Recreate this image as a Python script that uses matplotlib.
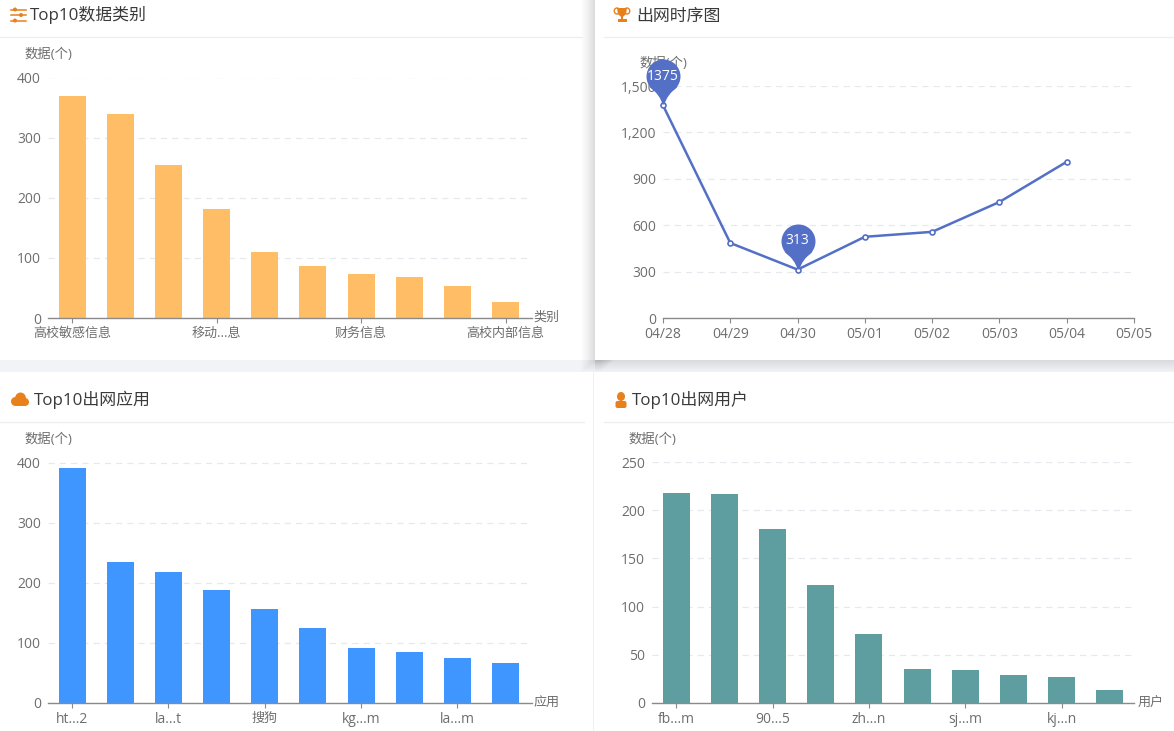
import matplotlib
matplotlib.use('Agg')
import matplotlib.pyplot as plt
from matplotlib.patches import Rectangle, Circle, Ellipse, Polygon, FancyBboxPatch
from matplotlib.path import Path

plt.rcParams['font.family'] = ['Open Sans', 'Noto Sans CJK SC', 'DejaVu Sans']

W, H = 1174, 731

# datos
categorias_tipo = ['高校敏感信息', '', '', '移动...息', '', '', '财务信息', '', '', '高校内部信息']
valores_tipo = [370, 340, 255, 182, 110, 86, 74, 69, 53, 27]

fechas = ['04/28', '04/29', '04/30', '05/01', '05/02', '05/03', '05/04', '05/05']
valores_fecha = [1375, 485, 313, 525, 557, 750, 1010]
picos = [0, 2]

categorias_app = ['ht...2', '', 'la...t', '', '搜狗', '', 'kg...m', '', 'la...m', '']
valores_app = [391, 234, 218, 188, 157, 124, 92, 85, 75, 67]

categorias_user = ['fb...m', '', '90...5', '', 'zh...n', '', 'sj...m', '', 'kj...n', '']
valores_user = [218, 217, 180, 122, 72, 35, 34, 29, 27, 14]

ticks_tipo = [0, 100, 200, 300, 400]
ticks_fecha = [0, 300, 600, 900, 1200, 1500]
ticks_app = [0, 100, 200, 300, 400]
ticks_user = [0, 50, 100, 150, 200, 250]

GRIS = '#6e6e6e'
NARANJA = '#E8801C'
TITULO = '#3a3a3a'
GRID = '#E6E8EE'
EJE = '#8a8a8a'
F_LATIN = 10
F_CJK = 9.4
F_TITULO = 12.2


def ajustar_fuente(ax):
    """Las etiquetas con caracteres chinos van algo mas pequeñas"""
    for t in ax.get_xticklabels() + ax.get_yticklabels():
        t.set_fontsize(F_LATIN if t.get_text().isascii() else F_CJK)


def crear_ejes(fig, x0, x1, y_top, y_bot):
    """Ejes colocados por pixeles de la imagen"""
    ax = fig.add_axes([x0 / W, 1 - y_bot / H, (x1 - x0) / W, (y_bot - y_top) / H])
    ax.patch.set_alpha(0)
    for lado in ['top', 'right', 'left']:
        ax.spines[lado].set_visible(False)
    ax.spines['bottom'].set_color(EJE)
    ax.spines['bottom'].set_linewidth(1)
    ax.grid(axis='y', color=GRID, linestyle=(0, (5, 4)), linewidth=0.9)
    ax.set_axisbelow(True)
    ax.tick_params(axis='y', length=0, labelcolor=GRIS, pad=5)
    ax.tick_params(axis='x', length=3.5, width=0.8, color=EJE, labelcolor=GRIS, pad=3)
    return ax


def barras(fig, x0, x1, y_top, y_bot, valores, etiquetas, ticks, color, sobra=0.0):
    ax = crear_ejes(fig, x0, x1, y_top, y_bot)
    pos = list(range(len(valores)))
    ax.bar(pos, valores, width=0.56, color=color, zorder=2)
    ax.set_xlim(-0.5, len(valores) - 0.5 + sobra)
    ax.set_ylim(ticks[0], ticks[-1])
    ax.set_yticks(ticks)
    marcados = [i for i, e in enumerate(etiquetas) if e]
    ax.set_xticks(marcados)
    ax.set_xticklabels([etiquetas[i] for i in marcados])
    ajustar_fuente(ax)
    return ax


def pin_path():
    """Marcador de chincheta, con la punta en (0, 0)"""
    r = 17
    cy = 29
    circulo = Path.unit_circle()
    vs = [(v[0] * r, v[1] * r + cy) for v in circulo.vertices]
    c = Path(vs, circulo.codes)
    punta = Path([(-14, 19), (-3, 10), (-1, 1), (1, 1), (3, 10), (14, 19), (-14, 19)],
                 [Path.MOVETO, Path.CURVE3, Path.CURVE3, Path.LINETO,
                  Path.CURVE3, Path.CURVE3, Path.CLOSEPOLY])
    return Path.make_compound_path(c, punta)


fig = plt.figure(figsize=(W / 100, H / 100), dpi=100, facecolor='white')

# capa de fondo en coordenadas de pixel
bg = fig.add_axes([0, 0, 1, 1])
bg.set_xlim(0, W)
bg.set_ylim(H, 0)
bg.axis('off')

bg.add_patch(Rectangle((0, 360), W, 12, color='#F1F3F7', lw=0))
bg.add_patch(Rectangle((593, 372), 1, 359, color='#F0F1F4', lw=0))
# sombra de la tarjeta superior derecha
for i in range(14):
    bg.add_patch(Rectangle((581 + i, 0), 20, 360 + 12 - i * 12 / 14, color='#000000', alpha=0.006 + 0.0006 * i, lw=0))
for i in range(12):
    bg.add_patch(Rectangle((595, 360), W - 595, 12 - i, color='#000000', alpha=0.009, lw=0))
bg.add_patch(Rectangle((595, 0), W - 595, 360, color='white', lw=0))

# separadores bajo los titulos
for x0, x1, y in [(0, 582, 37), (604, W, 37), (0, 584, 422), (604, W, 422)]:
    bg.plot([x0, x1], [y, y], color='#EDEEF0', lw=0.9)

# titulos
bg.text(30, 15, 'Top10数据类别', fontsize=F_TITULO, color=TITULO, va='center')
bg.text(636, 16.5, '出网时序图', fontsize=F_TITULO, color=TITULO, va='center')
bg.text(34, 400, 'Top10出网应用', fontsize=F_TITULO, color=TITULO, va='center')
bg.text(632, 400, 'Top10出网用户', fontsize=F_TITULO, color=TITULO, va='center')

# iconos
for y, xk in [(9.5, 15), (15, 21), (20.5, 15)]:
    bg.plot([11, 26], [y, y], color=NARANJA, lw=1.1)
    bg.add_patch(Circle((xk, y), 2, color=NARANJA, lw=0))
bg.add_patch(Polygon([(617, 8), (627, 8), (626, 14), (623.5, 16.5), (620.5, 16.5), (618, 14)], color=NARANJA, lw=0))
bg.add_patch(Ellipse((617, 11), 5.5, 6, fill=False, ec=NARANJA, lw=1))
bg.add_patch(Ellipse((627, 11), 5.5, 6, fill=False, ec=NARANJA, lw=1))
bg.add_patch(Rectangle((621, 16), 2, 3, color=NARANJA, lw=0))
bg.add_patch(Rectangle((617.5, 19), 9, 2.5, color=NARANJA, lw=0))
bg.add_patch(Ellipse((20.5, 398.5), 11, 12, color=NARANJA, lw=0))
bg.add_patch(Circle((15.5, 401.5), 4.5, color=NARANJA, lw=0))
bg.add_patch(Circle((25, 402), 4, color=NARANJA, lw=0))
bg.add_patch(Rectangle((15.5, 400), 9.5, 6, color=NARANJA, lw=0))
bg.add_patch(Ellipse((621, 396.5), 8, 9, color=NARANJA, lw=0))
bg.add_patch(FancyBboxPatch((617.5, 403), 7, 3, boxstyle='round,pad=2', color=NARANJA, lw=0))

# nombres de los ejes
for x, y in [(25, 54), (640, 63), (25, 439), (629, 439)]:
    bg.text(x, y, '数据(个)', fontsize=9.6, color=GRIS, va='center')
for x, y, nombre in [(533.5, 317, '类别'), (534, 702, '应用'), (1138, 702, '用户')]:
    bg.text(x, y, nombre, fontsize=F_CJK, color=GRIS, va='center')

barras(fig, 48, 532, 77.5, 318, valores_tipo, categorias_tipo, ticks_tipo, '#FFBD66', sobra=0.05)
barras(fig, 48, 532, 462.5, 703, valores_app, categorias_app, ticks_app, '#4096FF', sobra=0.05)
barras(fig, 652, 1134, 462, 703, valores_user, categorias_user, ticks_user, '#5F9EA0')

# serie temporal
ax = crear_ejes(fig, 663, 1134, 86, 318)
ax.plot(range(len(valores_fecha)), valores_fecha, color='#5470C6', lw=1.8, zorder=4,
        marker='o', markersize=3.6, markerfacecolor='white', markeredgewidth=1.2,
        markeredgecolor='#5470C6', clip_on=False)
ax.set_xlim(0, len(fechas) - 1)
ax.set_ylim(ticks_fecha[0], ticks_fecha[-1])
ax.set_yticks(ticks_fecha)
ax.set_yticklabels([f'{t:,}' for t in ticks_fecha])
ax.set_xticks(range(len(fechas)))
ax.set_xticklabels(fechas)
ajustar_fuente(ax)

# 46 px de alto maximo -> el marcador se normaliza a 92 px
for i in picos:
    ax.plot([i], [valores_fecha[i]], marker=pin_path(), markersize=92 * 0.72,
            color='#5470C6', markeredgewidth=0, linestyle='none', zorder=5, clip_on=False)
    ax.annotate(str(valores_fecha[i]), (i, valores_fecha[i]), xytext=(0, 29 * 0.72),
                textcoords='offset points', ha='center', va='center',
                color='white', fontsize=F_LATIN, zorder=6, annotation_clip=False)

fig.savefig('out.png', dpi=100)
plt.close(fig)
